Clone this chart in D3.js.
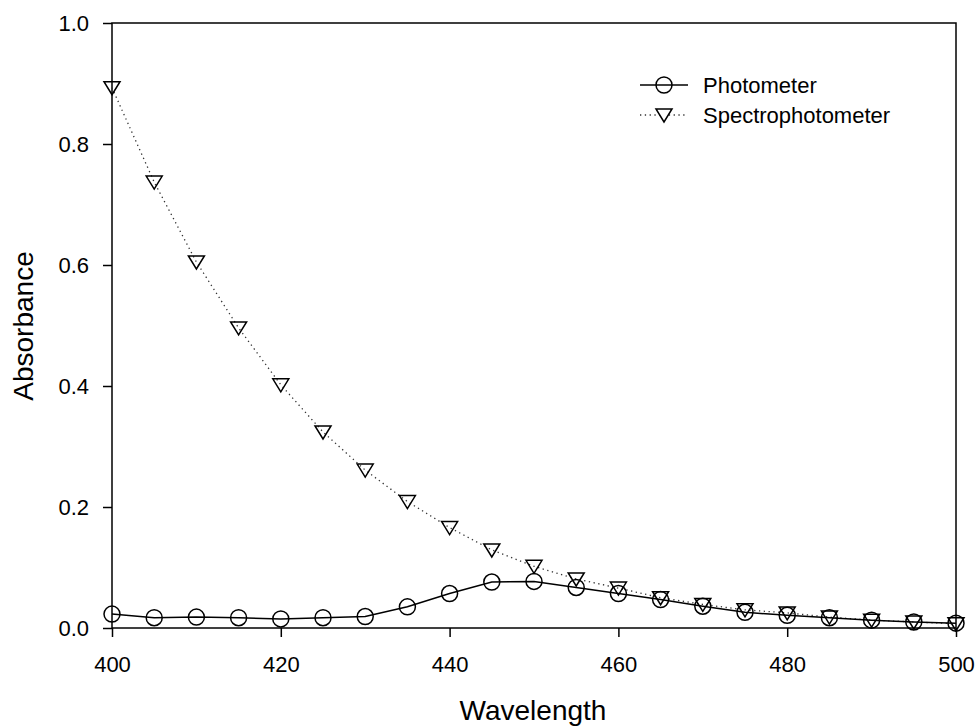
<!DOCTYPE html>
<html>
<head>
<meta charset="utf-8">
<script src="https://cdn.jsdelivr.net/npm/d3@7"></script>
<style>
  body { margin: 0; background: #fff; }
  text { font-family: Arial, "Liberation Sans", sans-serif; fill: #000; }
</style>
</head>
<body>
<svg id="chart"></svg>
<script>
// Data
const wavelengths = [400, 405, 410, 415, 420, 425, 430, 435, 440, 445, 450,
                     455, 460, 465, 470, 475, 480, 485, 490, 495, 500];
const photometer = [0.023, 0.017, 0.018, 0.017, 0.015, 0.017, 0.019, 0.035, 0.057, 0.076, 0.077,
                    0.067, 0.057, 0.047, 0.036, 0.026, 0.021, 0.017, 0.013, 0.010, 0.008];
const spectro = [0.893, 0.737, 0.605, 0.496, 0.402, 0.324, 0.261, 0.209, 0.166, 0.129, 0.102,
                 0.081, 0.066, 0.050, 0.039, 0.030, 0.025, 0.018, 0.013, 0.010, 0.007];
const xTicks = [400, 420, 440, 460, 480, 500];
const yTicks = [0.0, 0.2, 0.4, 0.6, 0.8, 1.0];
const seriesNames = ["Photometer", "Spectrophotometer"];

const width = 976, height = 728;
const margin = { top: 23, right: 20, bottom: 100, left: 112 };
const innerW = 956 - margin.left;
const innerH = 628 - margin.top;

const svg = d3.select("#chart").attr("width", width).attr("height", height);
const g = svg.append("g").attr("transform", `translate(${margin.left},${margin.top})`);

const x = d3.scaleLinear().domain([400, 500]).range([0, innerW]);
const y = d3.scaleLinear().domain([0, 1]).range([innerH, 0]);

// frame
g.append("rect").attr("width", innerW).attr("height", innerH)
  .attr("fill", "none").attr("stroke", "#000").attr("stroke-width", 1.5);

// axes
const xAxis = g.append("g").attr("transform", `translate(0,${innerH})`)
  .call(d3.axisBottom(x).tickValues(xTicks).tickFormat(d3.format("d")).tickSize(9).tickPadding(19));
const yAxis = g.append("g")
  .call(d3.axisLeft(y).tickValues(yTicks).tickFormat(d3.format(".1f")).tickSize(9).tickPadding(14));
[xAxis, yAxis].forEach(a => {
  a.selectAll(".domain").remove();
  a.selectAll(".tick line").attr("stroke", "#000").attr("stroke-width", 1.5);
  a.selectAll(".tick text").attr("font-size", 22).attr("font-family", "Arial, 'Liberation Sans', sans-serif");
});

// axis titles
svg.append("text").attr("x", 533).attr("y", 720)
  .attr("text-anchor", "middle").attr("font-size", 28).text("Wavelength");
svg.append("text").attr("transform", `translate(33,326) rotate(-90)`)
  .attr("text-anchor", "middle").attr("font-size", 28).text("Absorbance");

const line = d3.line().x(d => x(d[0])).y(d => y(d[1]));
const photoPts = wavelengths.map((w, i) => [w, photometer[i]]);
const specPts = wavelengths.map((w, i) => [w, spectro[i]]);

const triPath = "M-8,-6L8,-6L0,7Z";

// spectrophotometer dotted line
g.append("path").datum(specPts).attr("d", line)
  .attr("fill", "none").attr("stroke", "#333").attr("stroke-width", 1.3)
  .attr("stroke-dasharray", "1.3,3.5");
// photometer solid line
g.append("path").datum(photoPts).attr("d", line)
  .attr("fill", "none").attr("stroke", "#000").attr("stroke-width", 1.5);

g.selectAll(".spec").data(specPts).enter().append("path")
  .attr("class", "spec")
  .attr("transform", d => `translate(${x(d[0])},${y(d[1])})`)
  .attr("d", triPath).attr("fill", "none").attr("stroke", "#000").attr("stroke-width", 1.5);

g.selectAll(".photo").data(photoPts).enter().append("circle")
  .attr("class", "photo")
  .attr("cx", d => x(d[0])).attr("cy", d => y(d[1])).attr("r", 8)
  .attr("fill", "none").attr("stroke", "#000").attr("stroke-width", 1.5);

// legend
const leg = svg.append("g").attr("transform", "translate(640,85)");
seriesNames.forEach((name, i) => {
  const row = leg.append("g").attr("transform", `translate(0,${i * 30})`);
  row.append("line").attr("x1", 0).attr("x2", 48).attr("y1", 0).attr("y2", 0)
    .attr("stroke", i === 0 ? "#000" : "#333").attr("stroke-width", i === 0 ? 1.5 : 1.3)
    .attr("stroke-dasharray", i === 0 ? null : "1.3,3.5");
  if (i === 0) {
    row.append("circle").attr("cx", 24).attr("cy", 0).attr("r", 8)
      .attr("fill", "none").attr("stroke", "#000").attr("stroke-width", 1.5);
  } else {
    row.append("path").attr("transform", "translate(24,0)").attr("d", triPath)
      .attr("fill", "#fff").attr("stroke", "#000").attr("stroke-width", 1.5);
  }
  row.append("text").attr("x", 63).attr("y", 8).attr("font-size", 22).text(name);
});
</script>
</body>
</html>
